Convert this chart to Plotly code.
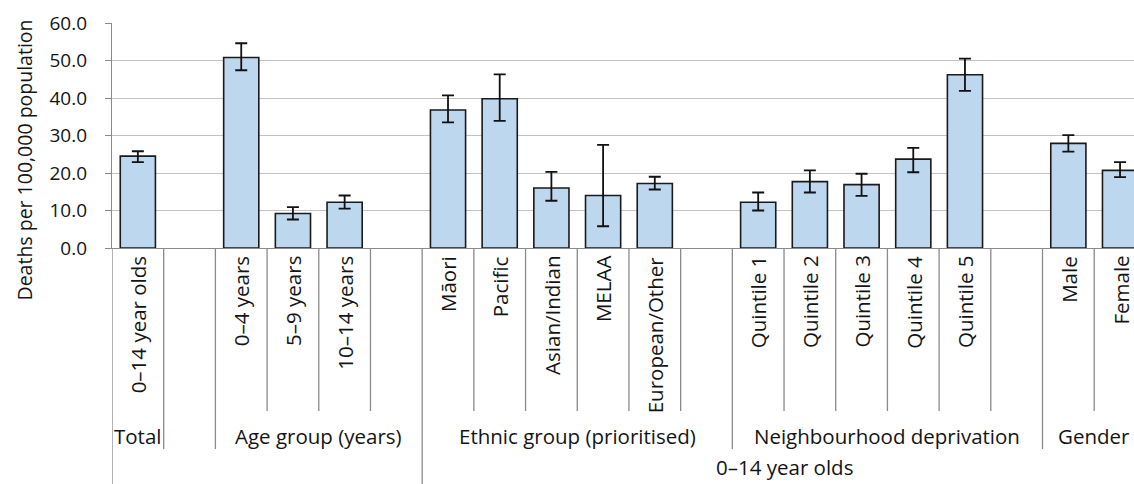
import plotly.graph_objects as go

# Injury death rates, 0–14 year olds, with 95% confidence intervals
categories = ["0–14 year olds", "", "0–4 years", "5–9 years", "10–14 years", "",
              "Māori", "Pacific", "Asian/Indian", "MELAA", "European/Other", "",
              "Quintile 1", "Quintile 2", "Quintile 3", "Quintile 4", "Quintile 5", "",
              "Male", "Female"]
rates = [24.5, None, 50.8, 9.2, 12.2, None,
         36.8, 39.8, 16.0, 14.0, 17.2, None,
         12.2, 17.7, 16.9, 23.7, 46.2, None,
         27.9, 20.7]
ci_lower = [22.9, None, 47.4, 7.6, 10.5, None,
            33.5, 33.9, 12.6, 5.8, 15.6, None,
            10.0, 14.8, 13.9, 20.2, 41.9, None,
            25.7, 18.9]
ci_upper = [25.8, None, 54.6, 10.9, 14.0, None,
            40.7, 46.3, 20.3, 27.5, 19.0, None,
            14.8, 20.7, 19.8, 26.7, 50.5, None,
            30.1, 22.9]

# Second and third level category groups (number of slots in each)
group_labels = ["Total", "", "Age group (years)", "Ethnic group (prioritised)",
                "Neighbourhood deprivation", "Gender"]
group_sizes = [1, 1, 4, 6, 6, 2]
outer_labels = ["", "0–14 year olds"]
outer_sizes = [6, 14]

y_ticks = [0, 10, 20, 30, 40, 50, 60]

FONT = "Open Sans"
FS = 20.5        # category labels
FS_TICK = 19     # value axis labels
TEXT = "#141414"
AXIS = "#8a8a8a"
GRID = "#c3c3c3"

W, H = 1134, 484
M_L, M_T, M_B = 112, 23, 236
plot_h = H - M_T - M_B


def py(pixel_y):
    """Convert a pixel row on the page to paper y coordinates."""
    return (H - M_B - pixel_y) / plot_h


x = list(range(len(categories)))
err_plus = [None if r is None else u - r for r, u in zip(rates, ci_upper)]
err_minus = [None if r is None else r - l for r, l in zip(rates, ci_lower)]

fig = go.Figure()
fig.add_trace(go.Bar(
    x=x, y=rates,
    marker=dict(color="#bdd7ee", line=dict(color="#1a1a1a", width=1.6)),
    error_y=dict(type="data", array=err_plus, arrayminus=err_minus,
                 color="#111111", thickness=1.8, width=6, visible=True),
    showlegend=False,
    hoverinfo="skip",
))

shapes = []
annotations = []
label_font = dict(family=FONT, size=FS, color=TEXT)

# Level 1: dividers between every slot and rotated category labels
n = len(categories)
for k in range(n + 1):
    shapes.append(dict(type="line", xref="x", yref="paper",
                       x0=k - 0.5, x1=k - 0.5, y0=0, y1=py(411),
                       line=dict(color=AXIS, width=1.3)))
for i, lab in enumerate(categories):
    if lab:
        annotations.append(dict(text=lab, x=i, y=py(254), xref="x", yref="paper",
                                textangle=-90, xanchor="center", yanchor="top",
                                showarrow=False, font=label_font))

# Level 2: group dividers and labels
start = 0
for lab, size in zip(group_labels, group_sizes):
    shapes.append(dict(type="line", xref="x", yref="paper",
                       x0=start - 0.5, x1=start - 0.5, y0=py(411), y1=py(449),
                       line=dict(color=AXIS, width=1.3)))
    if lab:
        annotations.append(dict(text=lab, x=start - 0.5 + size / 2, y=py(436),
                                xref="x", yref="paper", xanchor="center", yanchor="middle",
                                showarrow=False, font=label_font))
    start += size

# Level 3: outer dividers and labels
start = 0
for lab, size in zip(outer_labels, outer_sizes):
    shapes.append(dict(type="line", xref="x", yref="paper",
                       x0=start - 0.5, x1=start - 0.5, y0=py(449), y1=py(H + 2),
                       line=dict(color=AXIS, width=1.3)))
    if lab:
        annotations.append(dict(text=lab, x=start - 0.5 + size / 2, y=py(483),
                                xref="x", yref="paper", xanchor="center", yanchor="bottom",
                                showarrow=False, font=label_font))
    start += size

# Value axis title
annotations.append(dict(text="Deaths per 100,000 population",
                        x=(24 - M_L) / (W - M_L), y=py(18),
                        xref="paper", yref="paper",
                        showarrow=False, textangle=-90, xanchor="center", yanchor="top",
                        font=dict(family=FONT, size=FS_TICK + 0.5, color=TEXT)))

fig.update_layout(
    width=W, height=H,
    margin=dict(l=M_L, r=0, t=M_T, b=M_B, pad=0),
    paper_bgcolor="white", plot_bgcolor="white",
    bargap=0.32,
    shapes=shapes,
    annotations=annotations,
    font=dict(family=FONT, size=FS, color=TEXT),
    xaxis=dict(range=[-0.5, 19.27], showticklabels=False, ticks="",
               showgrid=False, zeroline=False, showline=True,
               linecolor=AXIS, linewidth=1.3),
    yaxis=dict(range=[0, 60], tickvals=y_ticks, tickformat=".1f",
               showgrid=True, gridcolor=GRID, gridwidth=1.3, zeroline=False,
               showline=True, linecolor=AXIS, linewidth=1.3,
               ticks="outside", ticklen=6, tickcolor=AXIS, tickwidth=1.3,
               ticklabelstandoff=14,
               tickfont=dict(family=FONT, size=FS_TICK, color=TEXT)),
)

fig.write_html("out.html")
